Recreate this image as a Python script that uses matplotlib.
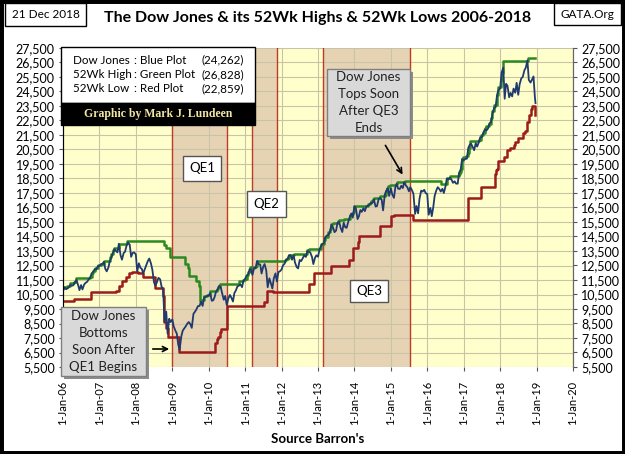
import matplotlib
matplotlib.use("Agg")
import matplotlib.pyplot as plt
import matplotlib.dates as mdates
import pandas as pd
from matplotlib.patches import Rectangle, FancyArrowPatch
from matplotlib.ticker import FuncFormatter

plt.rcParams['font.family'] = ['Lato', 'DejaVu Sans']

W, H = 625, 454

# Dow Jones, values on the 1st and 15th of each month
dow_2006 = [10718, 11000, 10865, 10920, 10993, 11150, 11109, 11140, 11367, 11500, 11168, 10800,
            11150, 10850, 11186, 11300, 11381, 11550, 11679, 11950, 12081, 12250, 12222, 12450]
dow_2007 = [12463, 12580, 12622, 12750, 12269, 12100, 12354, 12800, 13063, 13350, 13628, 13500,
            13409, 14000, 13212, 12900, 13358, 13450, 13896, 14100, 13930, 13100, 13372, 13400]
dow_2008 = [13265, 12100, 12650, 12350, 12266, 11950, 12263, 12500, 12820, 12980, 12638, 12200,
            11350, 11100, 11378, 11650, 11544, 11050, 10851, 8600, 9325, 7800, 8829, 8600]
dow_2009 = [8776, 8300, 8001, 7800, 7063, 6700, 7609, 8000, 8168, 8300, 8500, 8600,
            8447, 8200, 9172, 9300, 9496, 9700, 9712, 10000, 9713, 10300, 10345, 10400]
dow_2010 = [10428, 10600, 10067, 10100, 10325, 10700, 10857, 11100, 11009, 10600, 10137, 10400,
            9774, 10200, 10466, 10300, 10015, 10600, 10788, 11050, 11118, 11200, 11006, 11450]
dow_2011 = [11578, 11800, 11892, 12250, 12226, 11850, 12320, 12300, 12811, 12600, 12570, 11950,
            12414, 12600, 12143, 11000, 11614, 11300, 10913, 11600, 11955, 11400, 12046, 12100]
dow_2012 = [12218, 12500, 12633, 12900, 12952, 13200, 13212, 12900, 13214, 12700, 12393, 12300,
            12880, 12800, 13009, 13200, 13091, 13500, 13437, 13400, 13096, 12600, 13026, 13200]
dow_2013 = [13104, 13600, 13861, 14000, 14054, 14450, 14579, 14600, 14840, 15300, 15116, 14800,
            14910, 15450, 15500, 15100, 14810, 15450, 15130, 15100, 15546, 15850, 16086, 15800]
dow_2014 = [16577, 16450, 15699, 15900, 16322, 16200, 16458, 16250, 16581, 16600, 16717, 16800,
            16827, 17050, 16563, 16600, 17098, 17150, 17043, 16300, 17391, 17650, 17828, 17300]
dow_2015 = [17823, 17400, 17165, 17900, 18133, 17800, 17776, 18000, 17841, 18250, 18011, 17900,
            17620, 17900, 17690, 17450, 16058, 16600, 16100, 17100, 17664, 17600, 17720, 17500]
dow_2016 = [17425, 16000, 16466, 15900, 16517, 17300, 17685, 17900, 17774, 17600, 17787, 17500,
            17930, 18500, 18432, 18550, 18401, 18200, 18308, 18150, 18142, 18900, 19124, 19850]
dow_2017 = [19763, 19850, 19864, 20600, 20812, 20900, 20663, 20450, 20941, 20700, 21009, 21350,
            21350, 21650, 21891, 21800, 21948, 22300, 22405, 22950, 23377, 23400, 24272, 24600]
dow_2018 = [24719, 25800, 26149, 24000, 25029, 24900, 24103, 24400, 24163, 24700, 24416, 25100,
            24271, 25000, 25415, 25500, 25965, 26150, 26650, 25300, 25116, 25300, 25538, 24100]
dow_last = [23700]

dow_values = (dow_2006 + dow_2007 + dow_2008 + dow_2009 + dow_2010 + dow_2011 + dow_2012
              + dow_2013 + dow_2014 + dow_2015 + dow_2016 + dow_2017 + dow_2018 + dow_last)
dow_dates = list(pd.date_range("2006-01-01", "2018-12-15", freq="SMS")) + [pd.Timestamp("2018-12-21")]

# 52 week high (green), step changes
high_dates = ["2006-01-01", "2006-01-10", "2006-02-15", "2006-03-15", "2006-04-20", "2006-05-10",
              "2006-10-01", "2006-10-15", "2006-11-01", "2006-11-15", "2006-12-15", "2007-01-20",
              "2007-02-20", "2007-04-20", "2007-05-01", "2007-05-20", "2007-06-01", "2007-07-15",
              "2007-10-09", "2008-10-10", "2008-11-01", "2008-12-10", "2009-05-04", "2009-06-08",
              "2009-06-22", "2009-08-24", "2009-09-22", "2009-10-01", "2009-10-10", "2009-10-20",
              "2009-11-15", "2009-12-15", "2010-01-15", "2010-03-20", "2010-04-01", "2010-04-26",
              "2010-11-05", "2010-12-15", "2010-12-29", "2011-01-15", "2011-02-01", "2011-02-18",
              "2011-04-20", "2011-04-29", "2012-02-01", "2012-02-15", "2012-03-01", "2012-03-15",
              "2012-05-01", "2012-09-15", "2012-10-05", "2013-02-01", "2013-03-05", "2013-03-15",
              "2013-04-10", "2013-05-01", "2013-05-15", "2013-05-28", "2013-07-15", "2013-08-02",
              "2013-09-18", "2013-11-01", "2013-11-15", "2013-11-25", "2013-12-20", "2013-12-31",
              "2014-05-15", "2014-06-01", "2014-06-20", "2014-07-03", "2014-07-16", "2014-09-19",
              "2014-11-01", "2014-11-15", "2014-11-28", "2014-12-05", "2014-12-26", "2015-02-20",
              "2015-03-02", "2015-05-19", "2016-05-20", "2016-07-15", "2016-08-15", "2016-11-10",
              "2016-11-20", "2016-12-01", "2016-12-10", "2016-12-20", "2017-01-25", "2017-02-10",
              "2017-02-20", "2017-03-01", "2017-06-01", "2017-06-20", "2017-07-15", "2017-08-01",
              "2017-08-07", "2017-09-15", "2017-10-01", "2017-10-15", "2017-11-01", "2017-12-01",
              "2017-12-15", "2018-01-05", "2018-01-15", "2018-01-26", "2018-10-03", "2018-12-21"]
high_values = [10940, 11050, 11120, 11280, 11380, 11640,
               11700, 11980, 12100, 12320, 12510, 12620,
               12790, 13100, 13300, 13600, 13680, 14000,
               14165, 13930, 13730, 13060, 12600, 12300,
               11800, 11400, 11100, 10830, 10020, 10090,
               10400, 10500, 10725, 10850, 11000, 11205,
               11445, 11500, 11580, 11870, 12040, 12390,
               12450, 12810, 12880, 12950, 13000, 13250,
               13280, 13560, 13610, 14000, 14250, 14450,
               14800, 15000, 15350, 15410, 15550, 15660,
               15680, 15700, 15960, 16070, 16220, 16580,
               16720, 16800, 16950, 17070, 17140, 17280,
               17390, 17650, 17830, 17960, 18050, 18140,
               18290, 18310, 18140, 18520, 18640, 18810,
               18960, 19150, 19750, 19970, 20070, 20270,
               20620, 21120, 21180, 21530, 21640, 21960,
               22120, 22270, 22660, 23160, 23550, 24230,
               24790, 25300, 25800, 26620, 26830, 26830]

# 52 week low (red), step changes
low_dates = ["2006-01-01", "2006-04-20", "2006-10-13", "2007-06-13", "2007-07-20", "2007-08-20",
             "2007-09-25", "2007-10-20", "2007-11-20", "2008-01-22", "2008-03-10", "2008-07-15",
             "2008-09-29", "2008-10-06", "2008-10-09", "2008-10-27", "2008-11-20", "2009-03-09",
             "2010-03-09", "2010-03-20", "2010-04-01", "2010-04-20", "2010-05-05", "2010-07-02",
             "2011-07-05", "2011-08-08", "2011-10-03", "2012-10-04", "2012-11-26", "2013-05-15",
             "2013-11-10", "2013-12-20", "2014-02-05", "2014-02-20", "2014-09-15", "2015-01-01",
             "2015-02-01", "2015-08-10", "2017-02-12", "2017-06-27", "2017-11-08", "2017-11-22",
             "2017-12-01", "2017-12-15", "2018-02-08", "2018-03-10", "2018-04-13", "2018-05-17",
             "2018-06-01", "2018-07-01", "2018-08-18", "2018-09-05", "2018-10-01", "2018-10-15",
             "2018-11-01", "2018-11-20", "2018-12-20", "2018-12-21"]
low_values = [10070, 10220, 10700, 10740, 11100, 11400,
              11700, 12000, 12050, 11970, 11740, 10960,
              10365, 9955, 8580, 8175, 7550, 6550,
              7170, 7400, 7600, 7900, 8150, 9686,
              10000, 10720, 10655, 11230, 12000, 12450,
              12900, 13700, 14100, 14550, 15250, 15900,
              16000, 15670, 17140, 17890, 18800, 19080,
              19150, 19730, 20000, 20450, 20610, 20800,
              21000, 21300, 21670, 21750, 22400, 22850,
              23270, 23530, 22860, 22860]

# QE periods as drawn on the chart
qe_names = ["QE1", "QE2", "QE3"]
qe_starts = ["2009-01-01", "2011-03-15", "2013-02-20"]
qe_ends = ["2010-07-01", "2011-11-15", "2015-07-15"]

y_ticks = list(range(5500, 28500, 1000))

legend_names = ["Dow Jones", "52Wk High", "52Wk Low"]
legend_plots = [": Blue Plot", ": Green Plot", ": Red Plot"]
legend_values = ["(24,262)", "(26,828)", "(22,859)"]


def fx(x):
    return x / W


def fy(y):
    return 1 - y / H


def fig_box(fig, x0, y0, x1, y1, fc, ec, lw=1.0, z=5):
    rect = Rectangle((fx(x0), fy(y1)), fx(x1 - x0), (y1 - y0) / H, transform=fig.transFigure,
                     facecolor=fc, edgecolor=ec, linewidth=lw, zorder=z)
    fig.add_artist(rect)


def callout(fig, x0, y0, x1, y1, text):
    # grey note box with a small drop shadow
    fig_box(fig, x0 + 3, y0 + 3, x1 + 3, y1 + 3, '#8c8c8c', 'none', 0, z=5)
    fig_box(fig, x0, y0, x1, y1, '#d9d9d9', '#7f7f7f', 1.0, z=6)
    fig.text(fx((x0 + x1) / 2), fy((y0 + y1) / 2), text, ha='center', va='center',
             fontsize=9.5, linespacing=1.5, color='#222222', zorder=7)


def date_label(v, pos):
    d = mdates.num2date(v)
    return f"{d.day}-{d.strftime('%b-%y')}"


fig = plt.figure(figsize=(W / 100, H / 100), dpi=100)
fig.patch.set_facecolor('white')
ax = fig.add_axes([fx(63), fy(367), fx(573 - 63), (367 - 48) / H])
ax.set_facecolor('#ffffcc')

for name, s, e in zip(qe_names, qe_starts, qe_ends):
    ax.axvspan(pd.Timestamp(s), pd.Timestamp(e), facecolor='#e5d3b4', edgecolor='none', zorder=0.2)
    for edge in (s, e):
        ax.axvline(pd.Timestamp(edge), color='#c0392b', lw=1.0, zorder=2.5)

ax.step(pd.to_datetime(low_dates), low_values, where='post', color='#9c1c1c', lw=1.8, zorder=3)
ax.step(pd.to_datetime(high_dates), high_values, where='post', color='#2b8a1f', lw=1.8, zorder=3)
ax.plot(dow_dates, dow_values, color='#1f3a6e', lw=1.3, zorder=4)

ax.set_xlim(pd.Timestamp("2006-01-01"), pd.Timestamp("2020-01-01"))
ax.set_ylim(5500, 27500)
ax.set_yticks(y_ticks)
ax.yaxis.set_major_formatter(FuncFormatter(lambda v, p: f"{int(v):,}"))
ax.xaxis.set_major_locator(mdates.YearLocator())
ax.xaxis.set_major_formatter(FuncFormatter(date_label))
ax.grid(True, color='#c9c4a6', linewidth=0.8, zorder=0.5)
ax.set_axisbelow(True)
ax.tick_params(axis='x', labelrotation=90, labelsize=8, length=3, color='#555555', pad=7)
ax.tick_params(axis='y', labelsize=9, length=3, color='#555555', pad=3)
for side in ['top', 'bottom']:
    ax.spines[side].set_visible(False)
for side in ['left', 'right']:
    ax.spines[side].set_color('#666666')

ax2 = ax.twinx()
ax2.set_ylim(5500, 27500)
ax2.set_yticks(y_ticks)
ax2.yaxis.set_major_formatter(FuncFormatter(lambda v, p: f"{int(v):,}"))
ax2.tick_params(axis='y', labelsize=9, length=3, color='#555555', pad=3)
for side in ['top', 'bottom']:
    ax2.spines[side].set_visible(False)
ax2.spines['right'].set_color('#666666')

fig.text(fx(318), fy(439), "Source Barron's", ha='center', va='center',
         fontsize=9.5, fontweight='bold')

# title and corner boxes
fig.text(fx(318), fy(18), "The Dow Jones & its 52Wk Highs & 52Wk Lows 2006-2018",
         ha='center', va='center', fontsize=11.5, fontweight='bold')
fig_box(fig, 5, 3, 86, 26, 'white', 'black', 1.0)
fig.text(fx(45.5), fy(14.5), "21 Dec 2018", ha='center', va='center', fontsize=8.5, zorder=7)
fig_box(fig, 554, 3, 621, 25, 'white', 'black', 1.0)
fig.text(fx(587.5), fy(14), "GATA.Org", ha='center', va='center', fontsize=8.5, zorder=7)

# legend box and banner
fig_box(fig, 61, 47, 255, 103, 'white', 'black', 1.0, z=6)
for i, (nm, pl, val) in enumerate(zip(legend_names, legend_plots, legend_values)):
    yy = 60 + i * 14.5
    fig.text(fx(73), fy(yy), nm, ha='left', va='center', fontsize=8.4, zorder=7)
    fig.text(fx(134), fy(yy), pl, ha='left', va='center', fontsize=8.4, zorder=7)
    fig.text(fx(244), fy(yy), val, ha='right', va='center', fontsize=8.4, zorder=7)
fig_box(fig, 61, 103, 255, 125, 'black', 'black', 1.0, z=6)
fig.text(fx(158), fy(114.5), "Graphic by Mark J. Lundeen", ha='center', va='center',
         fontsize=8.5, fontweight='bold', family=['Liberation Serif', 'DejaVu Serif'],
         color='#f2e6a6', zorder=7)

# QE labels
for name, (x0, y0, x1, y1) in zip(qe_names, [(183, 156, 221, 181), (247, 191, 286, 217),
                                              (350, 280, 388, 302)]):
    fig_box(fig, x0, y0, x1, y1, 'white', '#555555', 1.0)
    fig.text(fx((x0 + x1) / 2), fy((y0 + y1) / 2), name, ha='center', va='center',
             fontsize=9.5, zorder=7)

# notes with arrows
callout(fig, 61, 307, 146, 376, "Dow Jones\nBottoms\nSoon After\nQE1 Begins")
callout(fig, 327, 69, 410, 136, "Dow Jones\nTops Soon\nAfter QE3\nEnds")
fig.add_artist(FancyArrowPatch((fx(150), fy(349)), (fx(172), fy(349)), transform=fig.transFigure,
                               arrowstyle='->', mutation_scale=9, color='black', lw=1.2, zorder=8))
fig.add_artist(FancyArrowPatch((fx(384), fy(143)), (fx(404), fy(177)), transform=fig.transFigure,
                               arrowstyle='->', mutation_scale=9, color='black', lw=1.2, zorder=8))

# outer frame
fig.add_artist(Rectangle((0, 0), 1, 1, transform=fig.transFigure, fill=False,
                         edgecolor='black', linewidth=5, zorder=10))

fig.savefig("out.png", dpi=100)
